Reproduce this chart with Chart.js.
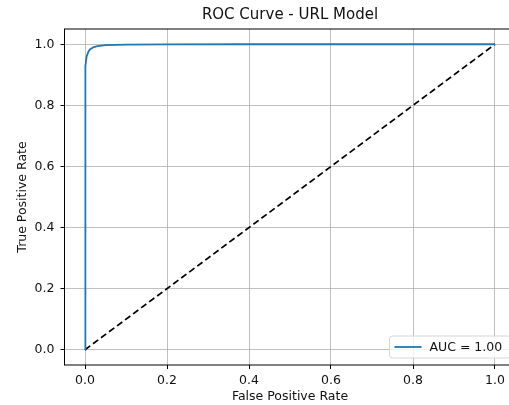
<!DOCTYPE html>
<html>
<head>
<meta charset="utf-8">
<script src="https://cdn.jsdelivr.net/npm/chart.js@4"></script>
<style>
  html, body { margin: 0; padding: 0; background: #fff; overflow: hidden; }
  #chart { display: block; }
</style>
</head>
<body>
<canvas id="chart" width="520" height="405"></canvas>
<script>
// ROC curve points (false positive rate / true positive rate)
const fpr = [0, 0.0003, 0.0006, 0.001, 0.002, 0.004, 0.008, 0.012, 0.02, 0.03, 0.05, 0.1, 0.2, 0.4, 1.0];
const tpr = [0, 0.5, 0.78, 0.88, 0.93, 0.96, 0.975, 0.983, 0.99, 0.994, 0.997, 0.999, 0.9995, 1.0, 1.0];
const chanceX = [0, 1];
const chanceY = [0, 1];
const tickValues = [0, 0.2, 0.4, 0.6, 0.8, 1.0];
const aucLabel = 'AUC = 1.00';
const titleText = 'ROC Curve - URL Model';

const font = "'DejaVu Sans', sans-serif";
const txt = '#111';

// frame, title and legend drawn like matplotlib (title centred over the axes)
const framePlugin = {
    id: 'frame',
    afterDatasetsDraw(chart) {
        const { ctx, chartArea: a } = chart;
        ctx.save();
        ctx.strokeStyle = '#000';
        ctx.lineWidth = 1;
        ctx.strokeRect(a.left, a.top, a.right - a.left, a.bottom - a.top);

        ctx.fillStyle = txt;
        ctx.font = '15px ' + font;
        ctx.textAlign = 'center';
        ctx.textBaseline = 'middle';
        ctx.fillText(titleText, (a.left + a.right) / 2, 15.5);

        // legend box, lower right
        const w = 121, h = 22;
        const x = a.right - 5 - w, y = a.bottom - 7 - h;
        ctx.beginPath();
        ctx.roundRect(x, y, w, h, 3);
        ctx.fillStyle = 'rgba(255,255,255,0.8)';
        ctx.fill();
        ctx.strokeStyle = '#d6d6d6';
        ctx.lineWidth = 1;
        ctx.stroke();
        ctx.beginPath();
        ctx.moveTo(x + 5, y + h / 2);
        ctx.lineTo(x + 32, y + h / 2);
        ctx.strokeStyle = '#1f77b4';
        ctx.lineWidth = 1.8;
        ctx.stroke();
        ctx.fillStyle = txt;
        ctx.font = '12.5px ' + font;
        ctx.textAlign = 'left';
        ctx.fillText(aucLabel, x + 40, y + h / 2 + 0.5);
        ctx.restore();
    }
};

const ctx = document.getElementById('chart').getContext('2d');
const chart = new Chart(ctx, {
    type: 'scatter',
    data: {
        datasets: [
            {
                label: aucLabel,
                data: fpr.map((v, i) => ({ x: v, y: tpr[i] })),
                showLine: true,
                borderColor: '#1f77b4',
                borderWidth: 1.8,
                pointRadius: 0,
                tension: 0,
            },
            {
                label: 'chance',
                data: chanceX.map((v, i) => ({ x: v, y: chanceY[i] })),
                showLine: true,
                borderColor: '#000',
                borderWidth: 1.7,
                borderDash: [6.5, 3.5],
                pointRadius: 0,
            }
        ]
    },
    options: {
        responsive: false,
        animation: false,
        devicePixelRatio: 1,
        layout: { padding: { left: 0, right: 4.5, top: 29, bottom: 0 } },
        plugins: {
            legend: { display: false },
            tooltip: { enabled: false },
            title: { display: false }
        },
        scales: {
            x: {
                type: 'linear',
                min: -0.05,
                max: 1.05,
                afterBuildTicks: s => { s.ticks = tickValues.map(v => ({ value: v })); },
                afterFit: s => { s.height = 40; },
                ticks: {
                    color: txt,
                    font: { family: font, size: 12.5 },
                    padding: 4,
                    maxRotation: 0,
                    callback: v => v.toFixed(1)
                },
                grid: { color: '#b0b0b0', lineWidth: 0.8, tickLength: 4, tickColor: '#000', tickWidth: 1 },
                border: { display: false },
                title: {
                    display: true,
                    text: 'False Positive Rate',
                    color: txt,
                    font: { family: font, size: 12.5 },
                    padding: { top: 0, bottom: 0.5 }
                }
            },
            y: {
                type: 'linear',
                min: -0.05,
                max: 1.05,
                afterBuildTicks: s => { s.ticks = tickValues.map(v => ({ value: v })); },
                afterFit: s => { s.width = 64.5; },
                ticks: {
                    color: txt,
                    font: { family: font, size: 12.5 },
                    padding: 6,
                    callback: v => v.toFixed(1)
                },
                grid: { color: '#b0b0b0', lineWidth: 0.8, tickLength: 4, tickColor: '#000', tickWidth: 1 },
                border: { display: false },
                title: {
                    display: true,
                    text: 'True Positive Rate',
                    color: txt,
                    font: { family: font, size: 12.5 },
                    padding: { top: 15, bottom: 0 }
                }
            }
        }
    },
    plugins: [framePlugin]
});
</script>
</body>
</html>
